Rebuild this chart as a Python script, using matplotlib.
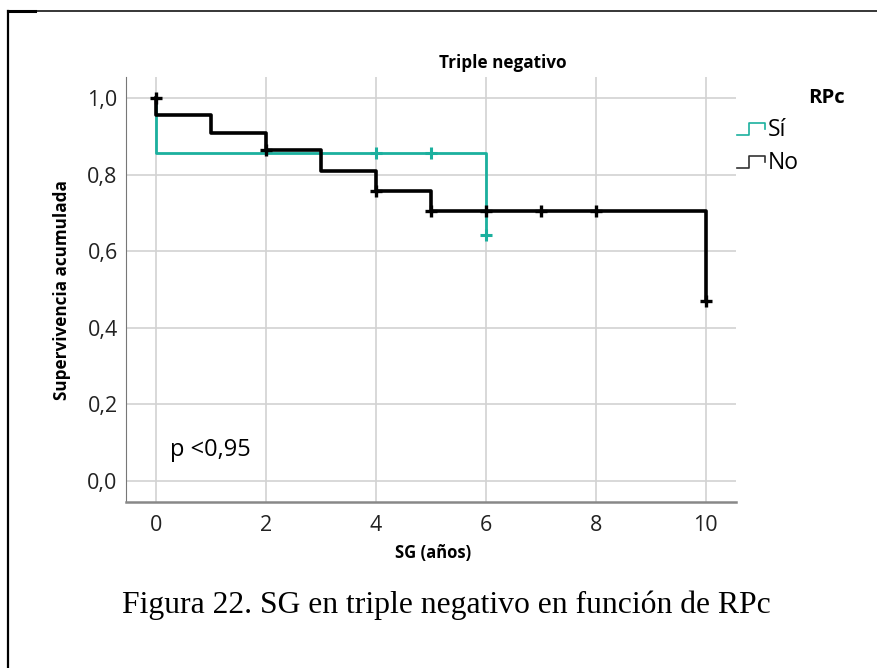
import numpy as np
import matplotlib
matplotlib.use("Agg")
from matplotlib import pyplot as plt
from matplotlib.lines import Line2D
from matplotlib.legend_handler import HandlerBase

# Kaplan-Meier curves (step at each event time)
no_t = [0, 0, 1, 2, 3, 4, 5, 10, 10]
no_s = [1.0, 0.955, 0.909, 0.864, 0.81, 0.757, 0.705, 0.705, 0.47]
no_cens_t = [0, 2, 4, 5, 6, 7, 8, 10]
no_cens_s = [1.0, 0.864, 0.757, 0.705, 0.705, 0.705, 0.705, 0.47]

si_t = [0, 0, 6, 6]
si_s = [1.0, 0.857, 0.857, 0.643]
si_cens_t = [4, 5, 6]
si_cens_s = [0.857, 0.857, 0.643]

group_labels = ["Sí", "No"]
xticks = [0, 2, 4, 6, 8, 10]
yticks = [0.0, 0.2, 0.4, 0.6, 0.8, 1.0]

TEAL = "#1bb09e"
BLACK = "#000000"

plt.rcParams["font.family"] = ["Open Sans", "DejaVu Sans"]


class StepHandler(HandlerBase):
    # little step glyph for the legend keys
    def create_artists(self, legend, orig, xd, yd, w, h, fontsize, trans):
        xs = np.array([0.0, 0.45, 0.45, 1.0, 1.0]) * w - xd
        ys = np.array([0.05, 0.05, 0.8, 0.8, 0.45]) * h - yd
        ln = Line2D(xs, ys, color=orig.get_color(), lw=1.2, transform=trans)
        return [ln]


fig = plt.figure(figsize=(8.77, 6.68), dpi=100)
ax = fig.add_axes([0.1437, 0.2485, 0.6955, 0.6362])

ax.step(si_t, si_s, where="post", color=TEAL, lw=2.0, zorder=3)
ax.plot(si_cens_t, si_cens_s, "+", color=TEAL, ms=8, mew=2.2, zorder=3)
ax.step(no_t, no_s, where="post", color=BLACK, lw=2.6, zorder=4)
ax.plot(no_cens_t, no_cens_s, "+", color=BLACK, ms=8, mew=2.4, zorder=4)

ax.set_xlim(-0.55, 10.55)
ax.set_ylim(-0.055, 1.055)
ax.set_xticks(xticks)
ax.set_yticks(yticks)
ax.set_xticklabels([str(v) for v in xticks])
ax.set_yticklabels([("%.1f" % v).replace(".", ",") for v in yticks])
ax.tick_params(length=0, labelsize=15.5, colors="#222222", pad=6)
ax.tick_params(axis="x", pad=9)
ax.grid(True, color="#d2d2d2", lw=1.2)
ax.set_axisbelow(True)
for s in ("top", "right"):
    ax.spines[s].set_visible(False)
ax.spines["left"].set_color("#777777")
ax.spines["bottom"].set_color("#888888")
ax.spines["bottom"].set_linewidth(1.8)

ax.text(0.25, 0.08, "p <0,95", fontsize=17, va="center", ha="left")

fig.text(503 / 877, 1 - 63 / 668, "Triple negativo", ha="center", va="center",
         fontsize=12.3, fontweight="bold")
fig.text(433 / 877, 1 - 553 / 668, "SG (años)", ha="center", va="center",
         fontsize=12, fontweight="bold")
fig.text(62 / 877, 1 - 290 / 668, "Supervivencia acumulada", ha="center",
         va="center", rotation=90, fontsize=12.3, fontweight="bold")
fig.text(826 / 877, 1 - 98 / 668, "RPc", ha="center", va="center",
         fontsize=14.7, fontweight="bold")

handles = [Line2D([], [], color=TEAL), Line2D([], [], color="#333333")]
leg = fig.legend(handles, group_labels, loc="upper left",
                 bbox_to_anchor=(737 / 877, 1 - 118 / 668), frameon=False,
                 fontsize=16.5, handlelength=1.2, handletextpad=0.15,
                 labelspacing=0.4, borderaxespad=0, borderpad=0,
                 handler_map={Line2D: StepHandler()})

fig.text(446 / 877, 1 - 605 / 668, "Figura 22. SG en triple negativo en función de RPc",
         ha="center", va="center", fontsize=22.8, family="Liberation Serif")

# page frame
fig.add_artist(Line2D([8 / 877, 8 / 877], [0, 1 - 11 / 668], color="black", lw=1.6,
                      transform=fig.transFigure))
fig.add_artist(Line2D([8 / 877, 1], [1 - 11 / 668, 1 - 11 / 668], color="black", lw=1.1,
                      transform=fig.transFigure))
fig.add_artist(Line2D([8 / 877, 35 / 877], [1 - 11 / 668, 1 - 11 / 668], color="black",
                      lw=2.2, transform=fig.transFigure))

fig.savefig("out.png", dpi=100)
